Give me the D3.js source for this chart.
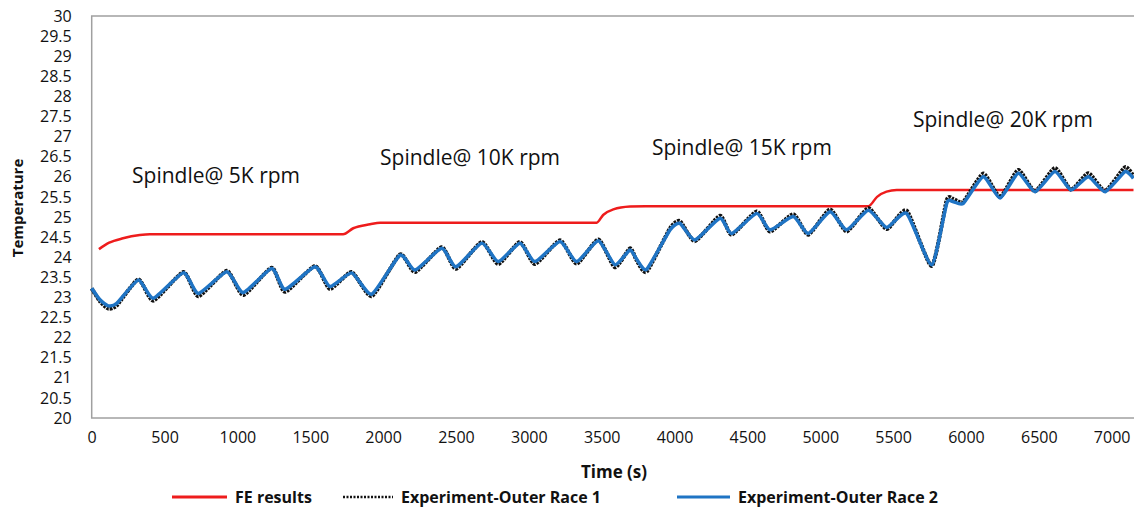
<!DOCTYPE html>
<html>
<head>
<meta charset="utf-8">
<script src="https://cdn.jsdelivr.net/npm/d3@7"></script>
<style>
  html, body { margin: 0; padding: 0; background: #fff; }
  svg { display: block; font-family: "Open Sans", Lato, sans-serif; }
</style>
</head>
<body>
<svg id="chart" width="1134" height="513"></svg>
<script>
// Time axis ticks (s) and temperature axis ticks
const xTicks = [0, 500, 1000, 1500, 2000, 2500, 3000, 3500, 4000, 4500, 5000, 5500, 6000, 6500, 7000];
const yTicks = [20, 20.5, 21, 21.5, 22, 22.5, 23, 23.5, 24, 24.5, 25, 25.5, 26, 26.5, 27, 27.5, 28, 28.5, 29, 29.5, 30];

// FE model prediction
const feTime = [50, 120, 215, 330, 400, 1725, 1795, 1910, 1980, 3466, 3510, 3580, 3695, 3800, 5330, 5390, 5455, 5525, 7150];
const feTemp = [24.2, 24.36, 24.47, 24.55, 24.57, 24.57, 24.72, 24.82, 24.86, 24.86, 25.05, 25.19, 25.26, 25.27, 25.27, 25.5, 25.63, 25.67, 25.67];

// Measured outer race temperatures (shared time stamps)
const expTime = [0, 57, 114, 172, 320, 423, 629, 732, 927, 1040, 1235, 1327, 1532, 1635, 1784, 1922,
  2116, 2219, 2402, 2500, 2677, 2790, 2939, 3042, 3214, 3328, 3477, 3591, 3694, 3740, 3809,
  3969, 4037, 4140, 4312, 4392, 4564, 4655, 4815, 4918, 5067, 5181, 5330, 5456, 5593, 5765,
  5868, 5913, 5982, 6119, 6234, 6359, 6474, 6611, 6721, 6840, 6955, 7092, 7149];
const race1Temp = [23.22, 22.90, 22.72, 22.80, 23.45, 22.92, 23.63, 23.03, 23.66, 23.06, 23.74, 23.14, 23.78, 23.21, 23.63, 23.03,
  24.07, 23.63, 24.25, 23.71, 24.38, 23.83, 24.38, 23.83, 24.42, 23.84, 24.44, 23.75, 24.22, 23.92, 23.64,
  24.72, 24.90, 24.40, 25.03, 24.56, 25.14, 24.64, 25.07, 24.56, 25.19, 24.64, 25.22, 24.70, 25.16, 23.78,
  25.42, 25.45, 25.38, 26.08, 25.50, 26.17, 25.64, 26.22, 25.68, 26.09, 25.65, 26.24, 26.02];
const race2Temp = [23.23, 22.94, 22.79, 22.85, 23.43, 22.98, 23.61, 23.10, 23.64, 23.12, 23.72, 23.20, 23.76, 23.27, 23.61, 23.08,
  24.05, 23.68, 24.22, 23.76, 24.35, 23.89, 24.35, 23.89, 24.39, 23.89, 24.41, 23.81, 24.18, 23.95, 23.70,
  24.68, 24.84, 24.43, 24.97, 24.59, 25.09, 24.68, 25.01, 24.59, 25.13, 24.68, 25.17, 24.74, 25.09, 23.81,
  25.34, 25.38, 25.34, 26.00, 25.47, 26.09, 25.63, 26.13, 25.67, 26.00, 25.63, 26.13, 25.96];

// Spindle speed annotations
const noteText = ["Spindle@ 5K rpm", "Spindle@ 10K rpm", "Spindle@ 15K rpm", "Spindle@ 20K rpm"];
const noteTime = [277, 1979, 3845, 5636];
const noteTemp = [25.85, 26.29, 26.54, 27.24];

const legendNames = ["FE results", "Experiment-Outer Race 1", "Experiment-Outer Race 2"];

const svg = d3.select("#chart");
const x = d3.scaleLinear().domain([0, 7150]).range([91.7, 1133.5]);
const y = d3.scaleLinear().domain([20, 30]).range([418, 16]);

// plot frame
svg.append("rect")
  .attr("x", x(0)).attr("y", y(30))
  .attr("width", 1140 - x(0)).attr("height", y(20) - y(30))
  .attr("fill", "none").attr("stroke", "#a0a0a0").attr("stroke-width", 1.5);

// axes
const yAxis = svg.append("g")
  .attr("transform", `translate(${x(0)},0)`)
  .call(d3.axisLeft(y).tickValues(yTicks).tickSize(0).tickPadding(20).tickFormat(d3.format("")));
yAxis.select(".domain").remove();
yAxis.selectAll("text").attr("font-size", 16).attr("fill", "#111").attr("font-family", "'Open Sans', sans-serif");

const xAxis = svg.append("g")
  .attr("transform", `translate(0,${y(20)})`)
  .call(d3.axisBottom(x).tickValues(xTicks).tickSize(0).tickPadding(14).tickFormat(d3.format("")));
xAxis.select(".domain").remove();
xAxis.selectAll("text").attr("font-size", 16).attr("fill", "#111").attr("font-family", "'Open Sans', sans-serif");

// axis titles
svg.append("text")
  .attr("transform", `translate(23,208) rotate(-90)`)
  .attr("text-anchor", "middle").attr("font-size", 15).attr("font-weight", "bold").attr("fill", "#111")
  .text("Temperature");
svg.append("text")
  .attr("x", 614).attr("y", 478)
  .attr("text-anchor", "middle").attr("font-size", 17).attr("font-weight", "bold").attr("fill", "#111")
  .text("Time (s)");

// series
const feData = feTime.map((t, i) => [t, feTemp[i]]);
const r1Data = expTime.map((t, i) => [t, race1Temp[i]]);
const r2Data = expTime.map((t, i) => [t, race2Temp[i]]);

const line = d3.line().x(d => x(d[0])).y(d => y(d[1])).curve(d3.curveCardinal.tension(0.45));
const smooth = d3.line().x(d => x(d[0])).y(d => y(d[1])).curve(d3.curveMonotoneX);

svg.append("path").datum(feData).attr("d", smooth)
  .attr("fill", "none").attr("stroke", "#ee1c1c").attr("stroke-width", 2.5);
svg.append("path").datum(r1Data).attr("d", line)
  .attr("fill", "none").attr("stroke", "#111").attr("stroke-width", 4)
  .attr("stroke-linejoin", "round").attr("stroke-dasharray", "2.5,1");
svg.append("path").datum(r2Data).attr("d", line)
  .attr("fill", "none").attr("stroke", "#1f74c4").attr("stroke-width", 3.5)
  .attr("stroke-linejoin", "round");

// speed annotations
svg.selectAll(".note").data(noteText).enter().append("text")
  .attr("class", "note")
  .attr("x", (d, i) => x(noteTime[i])).attr("y", (d, i) => y(noteTemp[i]))
  .attr("font-size", 21).attr("fill", "#111")
  .text(d => d);

// legend
const lg = svg.append("g");
const legendX = [172, 343, 677];
const legendLen = [55, 50, 53];
const legendColor = ["#ee1c1c", "#111", "#1f74c4"];
legendNames.forEach((name, i) => {
  const ln = lg.append("line")
    .attr("x1", legendX[i]).attr("x2", legendX[i] + legendLen[i])
    .attr("y1", 497).attr("y2", 497)
    .attr("stroke", legendColor[i]).attr("stroke-width", i === 1 ? 2.5 : 3);
  if (i === 1) ln.attr("stroke-dasharray", "2,1.5");
  lg.append("text")
    .attr("x", legendX[i] + legendLen[i] + 8).attr("y", 503)
    .attr("font-size", 16).attr("font-weight", "bold").attr("fill", "#111")
    .text(name);
});
</script>
</body>
</html>
